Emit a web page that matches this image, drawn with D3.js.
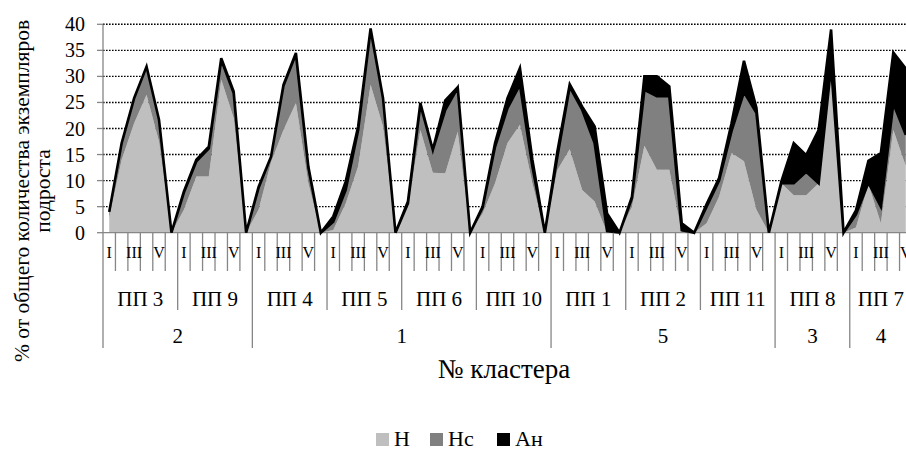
<!DOCTYPE html>
<html><head><meta charset="utf-8">
<script src="https://cdn.jsdelivr.net/npm/d3@7"></script>
<style>html,body{margin:0;padding:0;background:#fff;overflow:hidden}</style>
</head><body>
<svg id="chart" width="906" height="450"></svg>
<script>
// ---- data ----
const subLabels = ["I","II","III","IV","V",""];
const plots = ["ПП 3","ПП 9","ПП 4","ПП 5","ПП 6","ПП 10","ПП 1","ПП 2","ПП 11","ПП 8","ПП 7"];
const plotCluster = ["2","2","1","1","1","1","5","5","5","3","4"];
const seriesNames = ["Н","Нс","Ан"];
const yTicks = [0,5,10,15,20,25,30,35,40];
// values per category (groups of I..V + gap; last group has no gap)
const valH  = [2.8,14,21,26.5,17.5,0,  4.4,10.8,10.8,29.4,22,0,  4.4,13.5,19.7,24.9,9.5,0,
               0.5,5.6,12.7,28.4,20.4,0,  5,19.7,11.5,11.4,19.4,0,  3.7,9.5,17.2,20.7,9.5,0,
               12,16,8.2,6,0,0,  5,16.7,12.1,12.1,0,0,  1.8,6.9,15.3,13.7,4.4,0,
               9.5,7.2,7.2,9.5,31.9,0,  1.0,9.3,1.8,19.7,12.8];
const valHc = [1.2,3.2,4.8,5.4,4.2,0,  3.3,2.9,5.4,3.8,4.8,0,  4.2,1.1,8.5,9.4,3.0,0,
               1.6,2.6,7.0,10.6,5.4,0,  0.6,4.9,4.4,12.2,8.4,0,  1.1,7.0,6.7,7.7,3.2,0,
               2.5,12,15.4,11.2,0.3,0,  1.6,10.7,14.1,14.1,0.5,0,  3.2,3.1,4.2,13.3,18.6,0,
               0,2.3,4.5,0,0,0,  2.5,0.3,3.2,5.1,6.0];
const valAn = [0,0,0,0,0,0,  0.2,0.3,0.3,0.3,0.3,0,  0.2,0,0.2,0.2,0.2,0,
               1.0,1.6,0.7,0.2,0,0,  0.4,0.3,0,1.8,0.1,0,  0.2,0.7,1.9,3.2,1.3,0,
               1.0,0.5,0.6,3.2,3.4,0,  0.3,2.6,3.8,1.9,1.3,0,  0.5,0.5,1.5,6.0,1.0,0,
               0.3,7.7,3.2,10.2,7.1,0,  0.8,4.2,10.3,9.8,12.7];

// ---- build categories ----
const cats = [];
const groups = [];
plots.forEach((p, g) => {
  const n = g === plots.length - 1 ? 5 : 6;
  const start = cats.length;
  for (let k = 0; k < n; k++) cats.push({label: subLabels[k], plot: g});
  groups.push({name: p, cluster: plotCluster[g], start, end: cats.length});
});
const clusters = [];
groups.forEach(gr => {
  const last = clusters[clusters.length - 1];
  if (last && last.name === gr.cluster) last.end = gr.end;
  else clusters.push({name: gr.cluster, start: gr.start, end: gr.end});
});
const data = cats.map((c, i) => ({i, H: valH[i], Hc: valHc[i], An: valAn[i]}));

// ---- layout ----
const svg = d3.select("#chart");
const font = "'Liberation Serif','Times New Roman',serif";
const left = 103, bw = 12.446;
const x = d3.scaleBand().domain(d3.range(cats.length)).range([left, left + cats.length * bw]).paddingInner(0).paddingOuter(0);
const y = d3.scaleLinear().domain([0, 40]).range([232.7, 24.3]);
const cx = i => x(i) + x.bandwidth() / 2;
const bx = i => left + i * x.bandwidth();
const axisColor = "#868686";

// gridlines
svg.append("g").selectAll("line").data(yTicks.filter(t => t > 0)).join("line")
  .attr("x1", left).attr("x2", 906).attr("y1", d => y(d)).attr("y2", d => y(d))
  .attr("stroke", "#000").attr("stroke-width", 1.4).attr("stroke-dasharray", "1.6 1.4");

// areas
const stack = d3.stack().keys(["H","Hc","An"]);
const layers = stack(data);
const fills = ["#bfbfbf", "#808080", "#000000"];
const area = d3.area().x(d => cx(d.data.i)).y0(d => y(d[0])).y1(d => y(d[1]));
svg.append("g").selectAll("path").data(layers).join("path")
  .attr("d", area).attr("fill", (d, i) => fills[i]);

// axes lines
svg.append("line").attr("x1", left).attr("x2", 906).attr("y1", y(0)).attr("y2", y(0))
  .attr("stroke", axisColor).attr("stroke-width", 1.3);
svg.append("line").attr("x1", left).attr("x2", left).attr("y1", y(40)).attr("y2", 348)
  .attr("stroke", axisColor).attr("stroke-width", 1.3);

// outline of top series
svg.append("path").attr("d", area(layers[2])).attr("fill", "none")
  .attr("stroke", "#000").attr("stroke-width", 2.6).attr("stroke-linejoin", "miter");

// y ticks & labels
const yAxis = svg.append("g");
yAxis.selectAll("line").data(yTicks).join("line")
  .attr("x1", left - 6).attr("x2", left).attr("y1", d => y(d)).attr("y2", d => y(d))
  .attr("stroke", axisColor).attr("stroke-width", 1.3);
yAxis.selectAll("text").data(yTicks).join("text")
  .attr("x", 85).attr("y", d => y(d)).attr("dy", "0.35em").attr("text-anchor", "end")
  .attr("font-family", font).attr("font-size", 20).text(d => d);

// category ticks
const boundaries = d3.range(1, cats.length);
const clusterStarts = new Set(clusters.map(c => c.start));
const groupStarts = new Set(groups.map(g => g.start));
svg.append("g").selectAll("line").data(boundaries).join("line")
  .attr("x1", d => bx(d)).attr("x2", d => bx(d)).attr("y1", y(0))
  .attr("y2", d => clusterStarts.has(d) ? 348 : groupStarts.has(d) ? 310 : 271)
  .attr("stroke", axisColor).attr("stroke-width", 1.3);

// level 1 labels (every other)
svg.append("g").selectAll("text").data(cats.map((c, i) => ({c, i})).filter(d => d.i % 2 === 0))
  .join("text").attr("x", d => cx(d.i)).attr("y", 258).attr("text-anchor", "middle")
  .attr("font-family", font).attr("font-size", 16).text(d => d.c.label);
// level 2
svg.append("g").selectAll("text").data(groups).join("text")
  .attr("x", d => (bx(d.start) + bx(d.end)) / 2).attr("y", 306).attr("text-anchor", "middle")
  .attr("font-family", font).attr("font-size", 21).text(d => d.name);
// level 3
svg.append("g").selectAll("text").data(clusters).join("text")
  .attr("x", d => (bx(d.start) + bx(d.end)) / 2).attr("y", 343).attr("text-anchor", "middle")
  .attr("font-family", font).attr("font-size", 21).text(d => d.name);

// axis titles
svg.append("text").attr("x", 504).attr("y", 378).attr("text-anchor", "middle")
  .attr("font-family", font).attr("font-size", 27).text("№ кластера");
const yt = svg.append("text").attr("transform", "translate(0,191) rotate(-90)")
  .attr("text-anchor", "middle").attr("font-family", font).attr("font-size", 21.5);
yt.append("tspan").attr("x", 0).attr("y", 29).text("% от общего количества экземпляров");
yt.append("tspan").attr("x", 0).attr("y", 50).text("подроста");

// legend
const legX = [376, 430, 497];
const lg = svg.append("g").selectAll("g").data(seriesNames).join("g");
lg.append("rect").attr("x", (d, i) => legX[i]).attr("y", 433).attr("width", 13).attr("height", 13)
  .attr("fill", (d, i) => fills[i]);
lg.append("text").attr("x", (d, i) => legX[i] + 18).attr("y", 446)
  .attr("font-family", font).attr("font-size", 22).text(d => d);
</script>
</body></html>
